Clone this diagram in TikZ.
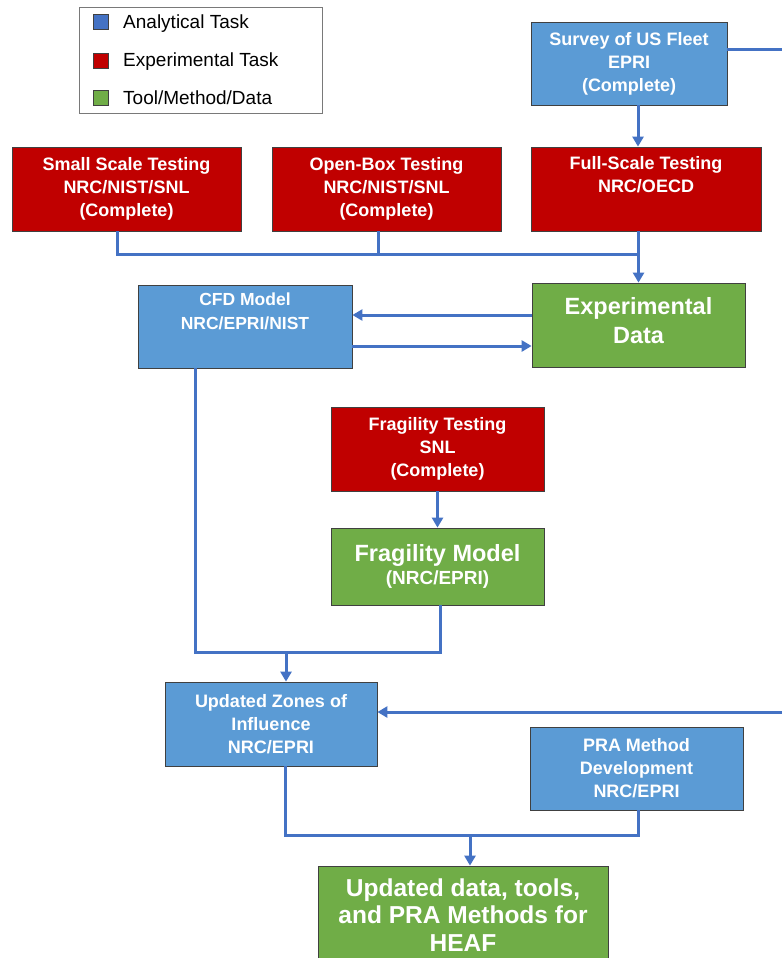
\documentclass[tikz,border=0pt]{standalone}
\usepackage{fontspec}
\setmainfont{Liberation Sans}
\usetikzlibrary{arrows.meta}
\definecolor{boxblue}{HTML}{5B9BD5}
\definecolor{boxred}{HTML}{C00000}
\definecolor{boxgreen}{HTML}{70AD47}
\definecolor{linkblue}{HTML}{4472C4}
\definecolor{edge}{HTML}{404040}
\begin{document}
\begin{tikzpicture}[x=1pt,y=-1pt,
  base/.style={draw=edge,line width=0.8pt,inner sep=0pt,text=white,align=center,
    font=\bfseries\fontsize{18}{23}\selectfont},
  bluebox/.style={base,fill=boxblue},
  redbox/.style={base,fill=boxred},
  greenbox/.style={base,fill=boxgreen},
  bigtext/.style={font=\bfseries\fontsize{23.5}{29}\selectfont},
  conn/.style={draw=linkblue,line width=3pt},
  arr/.style={conn,-{Triangle[length=10pt,width=11pt]}},
  legsq/.style={draw=edge,line width=0.6pt,minimum size=15pt,inner sep=0pt},
  legtxt/.style={anchor=west,inner sep=0pt,font=\fontsize{19}{22}\selectfont}
]
\useasboundingbox (0,0) rectangle (782,958);
\fill[white] (0,0) rectangle (782,958);

% legend
\node[draw=edge!70,line width=0.8pt,minimum width=243pt,minimum height=106pt,inner sep=0pt] (legend) at (200.5,60) {};
\node[legsq,fill=linkblue] (lq1) at (100.5,21.5) {};
\node[legsq,fill=boxred] (lq2) at (100.5,60.5) {};
\node[legsq,fill=boxgreen] (lq3) at (100.5,97.5) {};
\node[legtxt] (lt1) at (123,24) {Analytical Task};
\node[legtxt] (lt2) at (123,62) {Experimental Task};
\node[legtxt] (lt3) at (123,98) {Tool/Method/Data};

% boxes
\node[bluebox,minimum width=196pt,minimum height=83pt] (survey) at (629,63.5) {Survey of US Fleet\\EPRI\\(Complete)};
\node[redbox,minimum width=229pt,minimum height=84pt] (small) at (126.5,189) {Small Scale Testing\\NRC/NIST/SNL\\(Complete)};
\node[redbox,minimum width=229pt,minimum height=84pt] (open) at (386.5,189) {Open-Box Testing\\NRC/NIST/SNL\\(Complete)};
\node[redbox,minimum width=230pt,minimum height=84pt] (full) at (646,189) {Full-Scale Testing\\NRC/OECD\\\strut};
\node[greenbox,bigtext,minimum width=213pt,minimum height=84pt,text depth=10pt] (exp) at (638.5,325) {Experimental\\Data};
\node[bluebox,minimum width=214pt,minimum height=83pt,font=\bfseries\fontsize{17.5}{24}\selectfont] (cfd) at (245,326.5) {CFD Model\\NRC/EPRI/NIST\\\strut};
\node[redbox,minimum width=213pt,minimum height=84pt] (fragt) at (437.5,449) {Fragility Testing\\SNL\\(Complete)};
\node[greenbox,minimum width=213pt,minimum height=77pt] (fragm) at (437.5,566.5) {{\fontsize{23.5}{28}\selectfont Fragility Model}\\{\fontsize{19}{26}\selectfont (NRC/EPRI)}};
\node[bluebox,minimum width=212pt,minimum height=84pt] (zones) at (271,724) {Updated Zones of\\Influence\\NRC/EPRI};
\node[bluebox,minimum width=213pt,minimum height=83pt] (pra) at (636.5,768.5) {PRA Method\\Development\\NRC/EPRI};
\node[greenbox,font=\bfseries\fontsize{24.5}{27.5}\selectfont,minimum width=290pt,minimum height=98pt] (final) at (463,915) {Updated data, tools,\\and PRA Methods for\\HEAF};

% connectors
\coordinate (r1) at (782,50);
\draw[conn] (r1 -| survey.east) -- (r1);
\coordinate (c638) at (638,0);
\draw[arr] (c638 |- survey.south) -- (c638 |- full.north);

\coordinate (xs) at (117,254);
\coordinate (xo) at (378,254);
\draw[conn] (xs |- small.south) -- (xs) -- (xs -| exp.north);
\draw[conn] (xo |- open.south) -- (xo);
\draw[arr] (full.south -| exp.north) -- (exp.north);

\coordinate (y1) at (0,315);
\coordinate (y2) at (0,346);
\draw[arr] (y1 -| exp.west) -- (y1 -| cfd.east);
\draw[arr] (y2 -| cfd.east) -- (y2 -| exp.west);

\draw[arr] (fragt.south) -- (fragm.north);

\coordinate (j1) at (195,652);
\coordinate (j2) at (440,652);
\coordinate (j3) at (286,652);
\draw[conn] (j1 |- cfd.south) -- (j1) -- (j2) -- (j2 |- fragm.south);
\draw[arr] (j3) -- (j3 |- zones.north);

\coordinate (r2) at (782,712);
\draw[arr] (r2) -- (r2 -| zones.east);

\coordinate (k1) at (285,835);
\coordinate (k2) at (638,835);
\coordinate (k3) at (470,835);
\draw[conn] (k1 |- zones.south) -- (k1) -- (k2) -- (k2 |- pra.south);
\draw[arr] (k3) -- (k3 |- final.north);
\end{tikzpicture}
\end{document}
